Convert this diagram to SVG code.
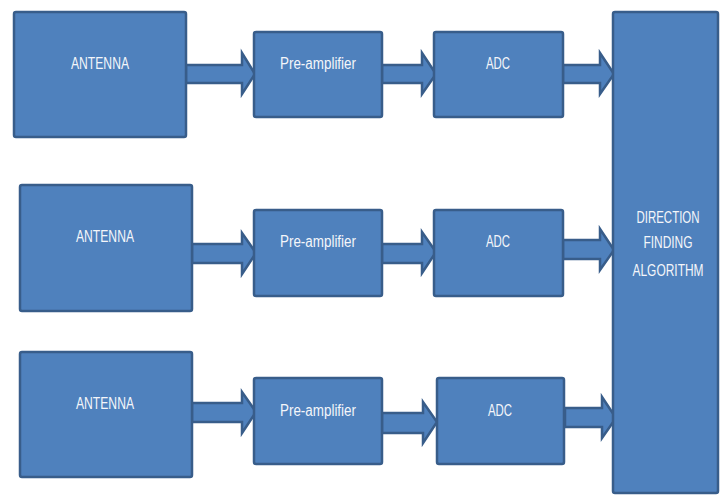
<svg xmlns="http://www.w3.org/2000/svg" width="720" height="495" viewBox="0 0 720 495">
<style>
.box{fill:#4F81BD;stroke:#385D8A;stroke-width:2.5}
.arr{fill:#4F81BD;stroke:#385D8A;stroke-width:2.5;stroke-linejoin:miter}
.t{font-family:"Liberation Sans",Arial,sans-serif;font-size:16px;fill:#F4F6FA;text-anchor:middle}
</style>
<rect width="720" height="495" fill="#FFFFFF"/>
<g id="connectors">
<polygon class="arr" points="186,65 242,65 242,53 255,74 242,94 242,83 186,83"/>
<polygon class="arr" points="382,65 422,65 422,53 436,74 422,94 422,83 382,83"/>
<polygon class="arr" points="563,65 600,65 600,53 614,74 600,94 600,83 563,83"/>
<polygon class="arr" points="192,244 242,244 242,233 256,253 242,274 242,263 192,263"/>
<polygon class="arr" points="382,244 422,244 422,232 436,252 422,273 422,263 382,263"/>
<polygon class="arr" points="563,240 600,240 600,229 614,250 600,270 600,259 563,259"/>
<polygon class="arr" points="192,403 242,403 242,392 256,412 242,433 242,422 192,422"/>
<polygon class="arr" points="382,413 423,413 423,402 437,422 423,443 423,433 382,433"/>
<polygon class="arr" points="565,408 602,408 602,397 616,418 602,438 602,427 565,427"/>
</g>
<g id="antenna1"><rect class="box" x="14" y="12" width="172" height="125" rx="2"/><text class="t" x="100" y="69" textLength="58" lengthAdjust="spacingAndGlyphs">ANTENNA</text></g>
<g id="preamp1"><rect class="box" x="254" y="32" width="128" height="85" rx="2"/><text class="t" x="318" y="69" textLength="76" lengthAdjust="spacingAndGlyphs">Pre-amplifier</text></g>
<g id="adc1"><rect class="box" x="434" y="32" width="129" height="85" rx="2"/><text class="t" x="498" y="69" textLength="24" lengthAdjust="spacingAndGlyphs">ADC</text></g>
<g id="antenna2"><rect class="box" x="20" y="185" width="172" height="126" rx="2"/><text class="t" x="105" y="242" textLength="58" lengthAdjust="spacingAndGlyphs">ANTENNA</text></g>
<g id="preamp2"><rect class="box" x="254" y="210" width="128" height="86" rx="2"/><text class="t" x="318" y="247" textLength="76" lengthAdjust="spacingAndGlyphs">Pre-amplifier</text></g>
<g id="adc2"><rect class="box" x="434" y="210" width="129" height="86" rx="2"/><text class="t" x="498" y="247" textLength="24" lengthAdjust="spacingAndGlyphs">ADC</text></g>
<g id="antenna3"><rect class="box" x="20" y="352" width="172" height="125" rx="2"/><text class="t" x="105" y="409" textLength="58" lengthAdjust="spacingAndGlyphs">ANTENNA</text></g>
<g id="preamp3"><rect class="box" x="254" y="378" width="128" height="86" rx="2"/><text class="t" x="318" y="416" textLength="76" lengthAdjust="spacingAndGlyphs">Pre-amplifier</text></g>
<g id="adc3"><rect class="box" x="437" y="378" width="127" height="86" rx="2"/><text class="t" x="500" y="416" textLength="24" lengthAdjust="spacingAndGlyphs">ADC</text></g>
<g id="dfa"><rect class="box" x="613" y="12" width="105" height="481" rx="2"/>
<text class="t" x="668" y="223" textLength="63" lengthAdjust="spacingAndGlyphs">DIRECTION</text>
<text class="t" x="668" y="248" textLength="49" lengthAdjust="spacingAndGlyphs">FINDING</text>
<text class="t" x="668" y="276" textLength="71" lengthAdjust="spacingAndGlyphs">ALGORITHM</text></g>
</svg>
